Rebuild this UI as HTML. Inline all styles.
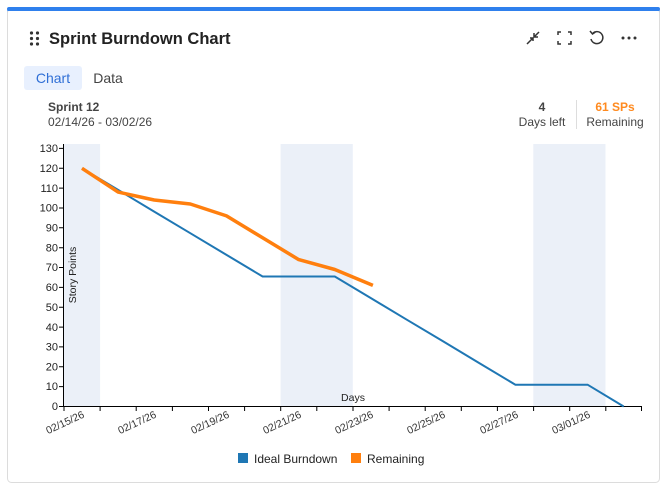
<!DOCTYPE html>
<html><head><meta charset="utf-8"><style>
body{margin:0;background:#fff;width:667px;height:486px;overflow:hidden;font-family:"Liberation Sans",sans-serif;}
</style></head><body>
<svg width="667" height="486" xmlns="http://www.w3.org/2000/svg" font-family="Liberation Sans, sans-serif">
<rect x="7.5" y="8.5" width="652" height="474" rx="4" fill="#fff" stroke="#dcdcdc"/>
<path d="M7 13 Q7 7 13 7 L654 7 Q660 7 660 13 L660 11 L7 11 Z" fill="#2f80ed"/>
<rect x="7" y="7" width="653" height="4" rx="2" fill="#2f80ed"/>
<g fill="#333"><circle cx="31.5" cy="33" r="1.6"/><circle cx="37.5" cy="33" r="1.6"/><circle cx="31.5" cy="38.5" r="1.6"/><circle cx="37.5" cy="38.5" r="1.6"/><circle cx="31.5" cy="44" r="1.6"/><circle cx="37.5" cy="44" r="1.6"/></g>
<text x="49" y="44" font-size="16.5" font-weight="bold" fill="#222">Sprint Burndown Chart</text>
<g stroke="#333" stroke-width="1.5" fill="none">
<path d="M527 44 L533 38 M530 38 L533 38 L533 41 M539 32 L534 37 M534 33 L534 37 L538 37"/>
<path d="M558 35 V32 H561 M568 32 H571 V35 M571 41 V44 H568 M561 44 H558 V41"/>
<path d="M593 33 A6 6 0 1 1 591 39 M590 31 L592.5 34 L595.5 32"/>
</g>
<g fill="#333"><circle cx="623" cy="38" r="1.5"/><circle cx="629" cy="38" r="1.5"/><circle cx="635" cy="38" r="1.5"/></g>
<rect x="24" y="66" width="58" height="24" rx="3" fill="#e8f0fe"/>
<text x="53" y="83" font-size="14" fill="#2f6fd6" text-anchor="middle">Chart</text>
<text x="108" y="83" font-size="14" fill="#444" text-anchor="middle">Data</text>
<text x="48" y="111" font-size="12" font-weight="bold" fill="#444">Sprint 12</text>
<text x="48" y="126" font-size="12" fill="#444">02/14/26 - 03/02/26</text>
<text x="542" y="111" font-size="12" font-weight="bold" fill="#444" text-anchor="middle">4</text>
<text x="542" y="126" font-size="12" fill="#444" text-anchor="middle">Days left</text>
<line x1="576.5" y1="100" x2="576.5" y2="129" stroke="#ddd"/>
<text x="615" y="111" font-size="12" font-weight="bold" fill="#ff8a1f" text-anchor="middle">61 SPs</text>
<text x="615" y="126" font-size="12" fill="#444" text-anchor="middle">Remaining</text>
<g fill="#ebf0f8">
<rect x="64" y="144" width="36.1" height="262"/>
<rect x="280.6" y="144" width="72.2" height="262"/>
<rect x="533.3" y="144" width="72.2" height="262"/>
</g>
<g font-size="11" fill="#222" text-anchor="end">
<text x="58" y="410">0</text><text x="58" y="390">10</text><text x="58" y="370.5">20</text><text x="58" y="350.6">30</text><text x="58" y="330.8">40</text><text x="58" y="310.9">50</text><text x="58" y="291">60</text><text x="58" y="271.2">70</text><text x="58" y="251.3">80</text><text x="58" y="231.5">90</text><text x="58" y="211.6">100</text><text x="58" y="191.8">110</text><text x="58" y="171.9">120</text><text x="58" y="152">130</text>
</g>
<g stroke="#000" stroke-width="1">
<line x1="63.5" y1="144" x2="63.5" y2="407"/>
<line x1="63" y1="406.5" x2="642" y2="406.5"/>
<path d="M59 406.5H63 M59 386.6H63 M59 366.8H63 M59 346.9H63 M59 327.1H63 M59 307.2H63 M59 287.4H63 M59 267.5H63 M59 247.7H63 M59 227.8H63 M59 208H63 M59 188.1H63 M59 168.3H63 M59 148.4H63"/>
<path d="M64 406v5 M100.1 406v5 M136.2 406v5 M172.4 406v5 M208.5 406v5 M244.6 406v5 M280.7 406v5 M316.8 406v5 M353 406v5 M389.1 406v5 M425.2 406v5 M461.3 406v5 M497.4 406v5 M533.6 406v5 M569.7 406v5 M605.8 406v5 M641.5 406v5"/>
</g>
<text transform="translate(76,275) rotate(-90)" font-size="10.5" fill="#222" text-anchor="middle">Story Points</text>
<text x="353" y="401" font-size="10.5" fill="#222" text-anchor="middle">Days</text>
<g font-size="10.5" fill="#333" text-anchor="end">
<text transform="translate(85,417) rotate(-25)">02/15/26</text>
<text transform="translate(157,417) rotate(-25)">02/17/26</text>
<text transform="translate(230,417) rotate(-25)">02/19/26</text>
<text transform="translate(302,417) rotate(-25)">02/21/26</text>
<text transform="translate(374,417) rotate(-25)">02/23/26</text>
<text transform="translate(446,417) rotate(-25)">02/25/26</text>
<text transform="translate(519,417) rotate(-25)">02/27/26</text>
<text transform="translate(591,417) rotate(-25)">03/01/26</text>
</g>
<polyline fill="none" stroke="#1f77b4" stroke-width="2" points="82,168.3 118.1,189.9 154.2,211.6 190.3,233.2 226.5,254.9 262.6,276.5 298.7,276.5 334.8,276.5 370.9,298.1 407,319.8 443.2,341.4 479.3,363.1 515.4,384.7 551.5,384.7 587.6,384.7 623.7,406.5"/>
<polyline fill="none" stroke="#ff7f0e" stroke-width="3.5" stroke-linejoin="round" points="82,168.3 118.1,192.1 154.2,200 190.3,204 226.5,215.9 262.6,237.8 298.7,259.6 334.8,269.5 372.9,285.4"/>
<rect x="238" y="453" width="10" height="10" fill="#1f77b4"/>
<text x="254" y="463" font-size="12" fill="#222">Ideal Burndown</text>
<rect x="351" y="453" width="10" height="10" fill="#ff7f0e"/>
<text x="367" y="463" font-size="12" fill="#222">Remaining</text>
</svg>
</body></html>
